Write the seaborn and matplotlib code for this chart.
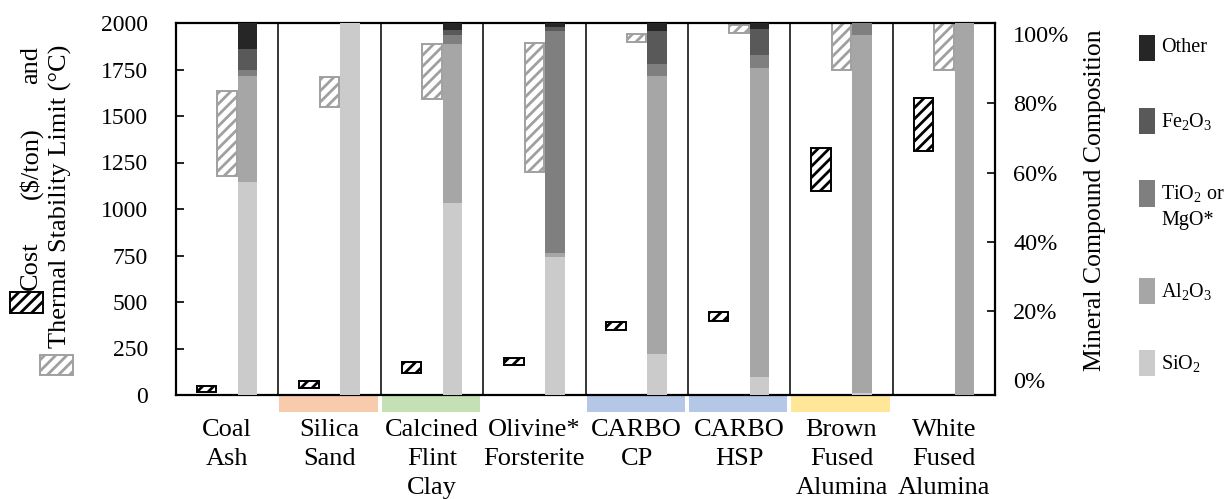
import numpy as np
import matplotlib
matplotlib.use("Agg")
import matplotlib.pyplot as plt
from matplotlib.patches import Rectangle
from matplotlib.transforms import blended_transform_factory
import seaborn as sns

# ---- data -------------------------------------------------------------
categories = ["Coal\nAsh", "Silica\nSand", "Calcined\nFlint\nClay",
              "Olivine*\nForsterite", "CARBO\nCP", "CARBO\nHSP",
              "Brown\nFused\nAlumina", "White\nFused\nAlumina"]

# cost range ($/ton)
cost_low = [15, 35, 120, 160, 350, 400, 1095, 1310]
cost_high = [50, 75, 175, 200, 395, 445, 1330, 1595]

# thermal stability limit range (°C)
thermal_low = [1180, 1550, 1590, 1200, 1900, 1945, 1750, 1750]
thermal_high = [1635, 1710, 1885, 1895, 1940, 1990, 2000, 2000]

# mineral compound composition (%)
sio2 = [57.3, 100.0, 51.7, 37.0, 11.0, 4.9, 0.6, 0.0]
al2o3 = [28.4, 0.0, 42.7, 1.3, 74.7, 82.9, 96.2, 100.0]
tio2_mgo = [1.6, 0.0, 2.5, 59.5, 3.2, 3.6, 3.2, 0.0]
fe2o3 = [5.8, 0.0, 1.2, 1.0, 8.9, 7.0, 0.0, 0.0]
other = [6.9, 0.0, 1.9, 1.2, 2.2, 1.6, 0.0, 0.0]

band_colors = [None, "#F8CBAD", "#C5E0B4", None, "#B4C7E7", "#B4C7E7", "#FFE699", None]

comp_layers = [
    ("SiO$_2$", sio2, "#CBCBCB"),
    ("Al$_2$O$_3$", al2o3, "#A6A6A6"),
    ("TiO$_2$ or\nMgO*", tio2_mgo, "#7F7F7F"),
    ("Fe$_2$O$_3$", fe2o3, "#595959"),
    ("Other", other, "#262626"),
]

# ---- style ------------------------------------------------------------
sns.set_theme(style="white")
plt.rcParams.update({
    "font.family": ["Liberation Serif", "DejaVu Serif"],
    "mathtext.fontset": "custom",
    "mathtext.rm": "Liberation Serif",
    "mathtext.it": "Liberation Serif:italic",
    "mathtext.bf": "Liberation Serif:bold",
    "hatch.linewidth": 2.0,
    "text.color": "black",
    "axes.edgecolor": "black",
})

W, H = 1225, 499
fig = plt.figure(figsize=(W / 100, H / 100), dpi=100)


def fx(px):
    return px / W


def fy(py):
    return 1 - py / H


ax = fig.add_axes([fx(176), fy(395), (995 - 176) / W, (395 - 23) / H])
ax2 = ax.twinx()
ax3 = ax.twinx()

x = np.arange(len(categories))
cost_x = x - 0.2
thermal_x = x.astype(float)
comp_x = x + 0.2

# floating range bars: cost and thermal stability
sns.barplot(x=cost_x, y=np.subtract(cost_high, cost_low), bottom=cost_low,
            native_scale=True, width=0.19, errorbar=None, saturation=1,
            color="white", facecolor="white", edgecolor="black", hatch="///",
            linewidth=1.4, ax=ax)
sns.barplot(x=thermal_x, y=np.subtract(thermal_high, thermal_low), bottom=thermal_low,
            native_scale=True, width=0.19, errorbar=None, saturation=1,
            color="white", facecolor="white", edgecolor="#A0A0A0", hatch="///",
            linewidth=1.4, ax=ax)

# stacked composition bars
bottom = np.zeros(len(categories))
for name, vals, col in comp_layers:
    sns.barplot(x=comp_x, y=vals, bottom=bottom, native_scale=True, width=0.19,
                errorbar=None, color=col, saturation=1, linewidth=0, ax=ax2)
    bottom = bottom + np.asarray(vals)

ax.set_xlim(-0.5, len(categories) - 0.5)
ax.set_ylim(0, 2000)
ax2.set_ylim(0, 100)
ax3.set_ylim(-4.28, 103.2)

# category separators
for b in x[:-1] + 0.5:
    ax.axvline(b, color="black", lw=1.1, zorder=1)

# colour bands under the categories
trans = blended_transform_factory(ax.transData, ax.transAxes)
for i, c in enumerate(band_colors):
    if c:
        ax.add_patch(Rectangle((i - 0.49, -0.0457), 0.96, 0.043, transform=trans,
                               facecolor=c, edgecolor="none", clip_on=False))

# axes, ticks
ax.set_yticks(np.arange(0, 2001, 250))
ax.tick_params(axis="y", which="both", direction="in", length=6, width=1.2,
               labelsize=17, pad=20, left=True, right=False, colors="black")
ax.set_xticks(x, categories)
ax.tick_params(axis="x", length=0, labelsize=19, pad=17.5, colors="black")
for lab in ax.get_xticklabels():
    lab.set_linespacing(1.4)
ax.set_xlabel("")
ax.set_ylabel("")
for s in ax.spines.values():
    s.set_color("black")
    s.set_linewidth(1.6)

ax2.set_yticks([])
ax2.set_ylabel("")
ax2.set_xlabel("")
for s in ax2.spines.values():
    s.set_visible(False)

ax3.set_yticks(np.arange(0, 101, 20), [f"{v}%" for v in range(0, 101, 20)])
ax3.tick_params(axis="y", direction="in", length=6, width=1.2, labelsize=17.5,
                pad=13, right=True, left=False, colors="black")
ticks = ax3.yaxis.get_major_ticks()
for t in (ticks[0], ticks[-1]):
    t.tick2line.set_visible(False)
for s in ax3.spines.values():
    s.set_visible(False)

# left axis title with its key swatches
fig.text(fx(31), fy(290), "Cost", rotation=90, ha="center", va="bottom", fontsize=19)
fig.text(fx(31), fy(163), r"(\$/ton)", rotation=90, ha="center", va="center", fontsize=19)
fig.text(fx(31), fy(46), "and", rotation=90, ha="center", va="top", fontsize=19)
fig.text(fx(60), fy(45), "Thermal Stability Limit (°C)", rotation=90,
         ha="center", va="top", fontsize=19)
fig.add_artist(Rectangle((fx(10), fy(313)), 33 / W, 21 / H, transform=fig.transFigure,
                         facecolor="white", edgecolor="black", hatch="///", lw=1.4))
fig.add_artist(Rectangle((fx(40), fy(375)), 33 / W, 20 / H, transform=fig.transFigure,
                         facecolor="white", edgecolor="#A0A0A0", hatch="///", lw=1.4))

# right axis title
fig.text(fx(1095), fy(200), "Mineral Compound Composition", rotation=90,
         ha="center", va="center", fontsize=18.5)

# composition key
key_centers = {"Other": 48, "Fe$_2$O$_3$": 121, "TiO$_2$ or\nMgO*": 193.5,
               "Al$_2$O$_3$": 291, "SiO$_2$": 363}
for name, vals, col in comp_layers:
    yc = key_centers[name]
    fig.add_artist(Rectangle((fx(1139), fy(yc + 13)), 16 / W, 26 / H,
                             transform=fig.transFigure, facecolor=col, edgecolor="none"))
    lines = name.split("\n")
    fig.text(fx(1161), fy(yc), lines[0], ha="left", va="center", fontsize=14.5)
    if len(lines) > 1:
        fig.text(fx(1161), fy(yc + 27), lines[1], ha="left", va="center", fontsize=14.5)

fig.savefig("out.png", dpi=100)
